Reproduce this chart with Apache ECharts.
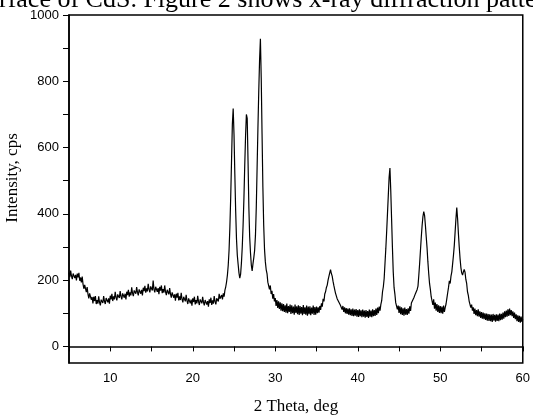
<!DOCTYPE html>
<html>
<head>
<meta charset="utf-8">
<script src="https://cdn.jsdelivr.net/npm/echarts@6/dist/echarts.min.js"></script>
<style>html,body{margin:0;padding:0;background:#fff;}#chart{width:533px;height:420px;}</style>
</head>
<body>
<div id="chart"></div>
<script>
// Sampling grid of the scan (2 Theta, deg)
const lowStart = 5.0, lowStep = 0.1;
const highStart = 23.5, highStep = 0.1;

// Intensity (cps), 5.0 .. 23.4 deg every 0.1 deg
const intensityLow = [
223,209,229,212,203,220,225,206,216,199,
220,208,222,198,208,193,211,188,174,186,
183,164,179,158,145,160,162,141,149,130,
150,137,152,128,140,129,151,133,124,141,
144,131,152,136,128,146,152,133,145,129,
153,142,159,137,151,142,165,148,139,157,
160,146,167,151,142,160,166,147,159,142,
165,155,171,150,163,154,178,160,152,169,
172,159,179,163,154,172,178,159,171,154,
177,167,183,162,175,166,189,172,163,181,
183,169,199,172,163,180,185,165,176,158,
180,168,184,161,173,162,184,165,155,171,
172,157,176,158,147,163,167,147,157,138,
159,147,162,139,151,140,162,143,133,150,
151,136,156,138,128,145,150,130,141,123,
145,134,150,127,140,130,153,135,125,142,
144,130,150,133,124,140,145,126,137,120,
142,131,147,125,139,129,152,135,127,145,
148,136,159,144,145
];

// Intensity (cps), 23.5 .. 60.0 deg every 0.1 deg
const intensityHigh = [
155,142,160,150,170,
180,195,215,245,290,360,450,560,670,718,
640,520,410,325,275,248,222,206,218,252,
300,365,445,545,635,700,688,560,420,330,
282,245,228,250,268,290,335,420,540,660,
770,865,928,810,640,480,365,292,255,232,
220,194,192,172,184,158,168,144,158,136,
146,122,140,116,136,113,133,108,130,106,
128,104,124,102,129,100,122,104,126,98,
124,100,120,96,126,101,121,97,124,95,
122,99,119,94,125,98,118,96,123,93,
120,97,121,94,117,99,123,95,119,96,
120,100,118,102,122,110,130,120,144,136,
158,165,178,185,200,205,222,232,220,212,
197,184,172,161,157,144,142,134,132,124,
126,111,122,104,118,100,116,98,114,96,
115,94,112,92,114,91,111,93,113,90,
110,89,112,91,109,88,111,90,108,87,
110,89,107,86,111,90,108,88,112,91,
110,92,114,95,117,100,120,108,127,138,
165,180,205,250,295,345,400,455,510,538,
470,385,300,225,178,158,132,133,112,123,
101,121,97,118,95,115,93,117,96,113,
95,115,99,121,107,131,135,133,147,145,
160,155,172,182,215,250,290,330,365,392,
407,395,365,330,297,255,220,190,172,150,
150,125,142,114,132,108,128,104,124,101,
122,100,120,99,123,104,118,128,145,162,
178,198,190,212,225,250,275,305,345,385,
419,385,340,300,265,238,222,215,225,232,
224,202,190,165,154,137,134,117,126,108,
118,98,114,94,110,91,112,90,106,86,
104,84,102,82,100,80,99,78,98,77,
97,76,96,74,98,78,95,75,97,77,
96,76,99,79,98,81,102,84,106,88,
108,90,112,92,114,94,110,91,106,86,
102,82,97,76,94,74,92,72,90,74,
82
];

// Axis ticks and labels
const xTickValues = [5,10,15,20,25,30,35,40,45,50,55,60];
const xLabelValues = [10,20,30,40,50,60];
const yTickValues = [0,100,200,300,400,500,600,700,800,900,1000];
const yLabelValues = [0,200,400,600,800,1000];

const scan = [];
intensityLow.forEach((v, i) => scan.push([+(lowStart + i * lowStep).toFixed(2), v]));
intensityHigh.forEach((v, i) => scan.push([+(highStart + i * highStep).toFixed(2), v]));

const chart = echarts.init(document.getElementById('chart'), null, {renderer: 'canvas'});
const axisFont = {fontFamily: '"Liberation Sans", Arial, sans-serif', fontSize: 13, color: '#000'};
chart.setOption({
  animation: false,
  backgroundColor: '#fff',
  grid: {left: 69, right: 5, top: 15, bottom: 54, show: true, borderColor: '#000', borderWidth: 1.5},
  xAxis: {
    type: 'value', min: 5, max: 60, interval: 5,
    name: '2 Theta, deg', nameLocation: 'middle', nameGap: 35,
    nameTextStyle: {fontFamily: '"Liberation Serif", "Times New Roman", serif', fontSize: 17, color: '#000'},
    axisLine: {show: true, lineStyle: {color: '#000', width: 1.5}},
    axisTick: {show: true, inside: false, length: 5, lineStyle: {color: '#000', width: 1}, customValues: xTickValues},
    axisLabel: Object.assign({margin: 9, customValues: xLabelValues, formatter: v => String(v)}, axisFont),
    splitLine: {show: false}
  },
  yAxis: {
    type: 'value', min: -50, max: 1000, interval: 50,
    axisLine: {show: true, lineStyle: {color: '#000', width: 1.5}},
    axisTick: {show: true, inside: false, length: 6, lineStyle: {color: '#000', width: 1}, customValues: yTickValues},
    axisLabel: Object.assign({margin: 10, customValues: yLabelValues, formatter: v => String(v)}, axisFont),
    splitLine: {show: false}
  },
  graphic: [
    {type: 'text', left: -1, top: -13, silent: true,
     style: {text: 'rface of CdS. Figure 2 shows x-ray diffraction patte', font: '26px "Liberation Serif", "Times New Roman", serif', fill: '#000'}},
    {type: 'text', x: 13, y: 178, rotation: Math.PI / 2, silent: true,
     style: {text: 'Intensity, cps', font: '17px "Liberation Serif", "Times New Roman", serif', fill: '#000', align: 'center', verticalAlign: 'middle'}}
  ],
  series: [{
    type: 'line', data: scan, showSymbol: false, symbol: 'none',
    lineStyle: {color: '#000', width: 1.2}, clip: true
  }]
});
</script>
</body>
</html>
